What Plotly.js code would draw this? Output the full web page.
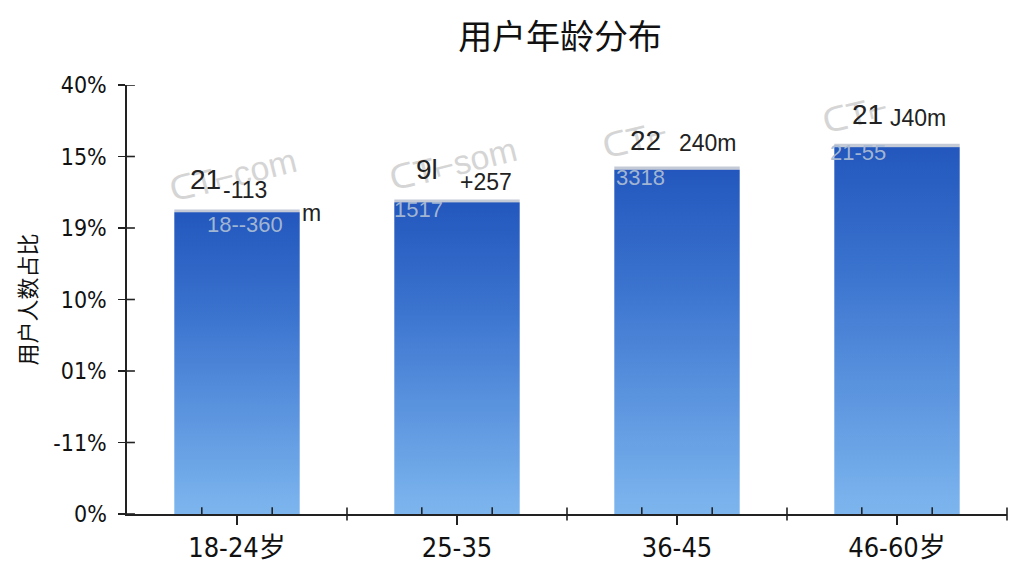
<!DOCTYPE html>
<html><head><meta charset="utf-8">
<script src="https://cdn.plot.ly/plotly-3.0.1.min.js"></script>
<style>html,body{margin:0;padding:0;background:#fff}#chart{width:1024px;height:576px}</style>
</head><body><div id="chart"></div>
<script>
// ---- data ----
const categories = ['18-24岁', '25-35', '36-45', '46-60岁'];
const values = [21.3, 22.0, 24.3, 25.9];
const yTickVals = [0, 5, 10, 15, 20, 25, 30];
const yTickText = ['0%', '-11%', '01%', '10%', '19%', '15%', '40%'];
const bigLabels = ['21', '9l', '22', '21'];
const sideLabels = ['-113', '+257', '240m', 'J40m'];
const barTopLabels = ['18--360', '1517', '3318', '21-55'];
const watermarks = ['ᑕT⌐com', 'ᑕT⌐som', 'ᑕT⌐', 'ᑕT⌐'];

const FONT = '"Liberation Sans Narrow","DejaVu Sans Condensed","Noto Sans CJK SC",sans-serif';
const FONT2 = 'Arial,"Liberation Sans","Noto Sans CJK SC",sans-serif';
const idx = categories.map((c, i) => i);

// label offsets relative to each bar (index, value)
const bigOff = [[-0.145, 2.06], [-0.136, 2.06], [-0.145, 1.85], [-0.132, 2.07]];
const sideOff = [[0.036, 1.36], [0.13, 1.2], [0.14, 1.64], [0.095, 1.8]];
const topOff = [[0.036, -1.02], [-0.177, -0.74], [-0.164, -0.8], [-0.177, -0.6]];
const wmOff = [[-0.02, 2.4], [-0.02, 2.5], [-0.19, 1.9], [-0.19, 2.1]];

const annotations = [];
idx.forEach(i => {
  annotations.push({x: i + wmOff[i][0], y: values[i] + wmOff[i][1], text: watermarks[i], showarrow: false,
    font: {family: FONT2, size: 34, color: 'rgba(200,200,200,0.75)'}, textangle: -14});
  annotations.push({x: i + bigOff[i][0], y: values[i] + bigOff[i][1], text: bigLabels[i], showarrow: false,
    font: {family: FONT2, size: 28, color: '#222'}});
  annotations.push({x: i + sideOff[i][0], y: values[i] + sideOff[i][1], text: sideLabels[i], showarrow: false,
    font: {family: FONT2, size: 23, color: '#222'}});
  annotations.push({x: i + topOff[i][0], y: values[i] + topOff[i][1], text: barTopLabels[i], showarrow: false,
    font: {family: FONT2, size: 22, color: 'rgba(170,188,212,0.95)'}});
});
annotations.push({x: 0.34, y: values[0] - 0.25, text: 'm', showarrow: false,
  font: {family: FONT2, size: 23, color: '#222'}});

// extra tick marks (axis decoration): inward halves and category-boundary crossings
const tickLine = {color: '#222', width: 1.6};
const shapes = [];
yTickVals.forEach(v => shapes.push({type: 'line', xref: 'x domain', yref: 'y', x0: 0, x1: 0.009, y0: v, y1: v, line: tickLine, layer: 'above'}));
idx.forEach(i => {
  [i - 0.16, i + 0.16].forEach(v => shapes.push({type: 'line', xref: 'x', yref: 'y domain', x0: v, x1: v, y0: 0, y1: 0.016, line: tickLine, layer: 'above'}));
  const b = (i + 1) / categories.length;
  shapes.push({type: 'line', xref: 'paper', yref: 'paper', x0: b, x1: b, y0: -0.015, y1: 0.015, line: tickLine, layer: 'above'});
});

const trace = {
  type: 'bar', x: idx, y: values, width: 0.57,
  marker: {color: '#4f86d6', line: {width: 0}},
  hoverinfo: 'skip'
};

const layout = {
  width: 1024, height: 576,
  margin: {l: 127, r: 17, t: 85, b: 62},
  paper_bgcolor: '#fff', plot_bgcolor: 'rgba(0,0,0,0)',
  showlegend: false,
  title: {text: '用户年龄分布', x: 0.547, xanchor: 'center', y: 0.935, yanchor: 'middle',
    font: {family: '"Noto Sans CJK SC",sans-serif', size: 34, color: '#111'}},
  xaxis: {
    range: [-0.5, 3.5], tickmode: 'array', tickvals: idx, ticktext: categories,
    showgrid: false, zeroline: false, showline: true, linecolor: '#222', linewidth: 1.6,
    ticks: 'outside', ticklen: 9, tickwidth: 1.6, tickcolor: '#222',
    tickfont: {family: FONT, size: 27, color: '#111'}
  },
  yaxis: {
    range: [0, 30], tickmode: 'array', tickvals: yTickVals, ticktext: yTickText,
    showgrid: false, zeroline: false, showline: true, linecolor: '#222', linewidth: 1.6,
    ticks: 'outside', ticklen: 7, tickwidth: 1.4, tickcolor: '#222', ticklabelstandoff: 7,
    tickfont: {family: FONT, size: 23, color: '#111'},
    title: {text: '用户人数占比', standoff: 10, font: {family: '"Noto Sans CJK SC",sans-serif', size: 22, color: '#111'}}
  },
  shapes: shapes,
  annotations: annotations
};

Plotly.newPlot('chart', [trace], layout, {displayModeBar: false, staticPlot: true}).then(gd => {
  const svg = gd.querySelector('svg.main-svg');
  const ns = 'http://www.w3.org/2000/svg';
  let defs = svg.querySelector('defs');
  if (!defs) { defs = document.createElementNS(ns, 'defs'); svg.insertBefore(defs, svg.firstChild); }
  const g = document.createElementNS(ns, 'linearGradient');
  g.setAttribute('id', 'barGrad'); g.setAttribute('x1', '0'); g.setAttribute('y1', '0');
  g.setAttribute('x2', '0'); g.setAttribute('y2', '1');
  [['0', '#c4cad6'], ['0.008', '#c4cad6'], ['0.011', '#2357bd'], ['0.35', '#3b74cf'], ['1', '#7db6ee']].forEach(s => {
    const st = document.createElementNS(ns, 'stop');
    st.setAttribute('offset', s[0]); st.setAttribute('stop-color', s[1]); g.appendChild(st);
  });
  defs.appendChild(g);
  gd.querySelectorAll('.bars path').forEach(p => { p.style.fill = 'url(#barGrad)'; });
});
</script></body></html>
